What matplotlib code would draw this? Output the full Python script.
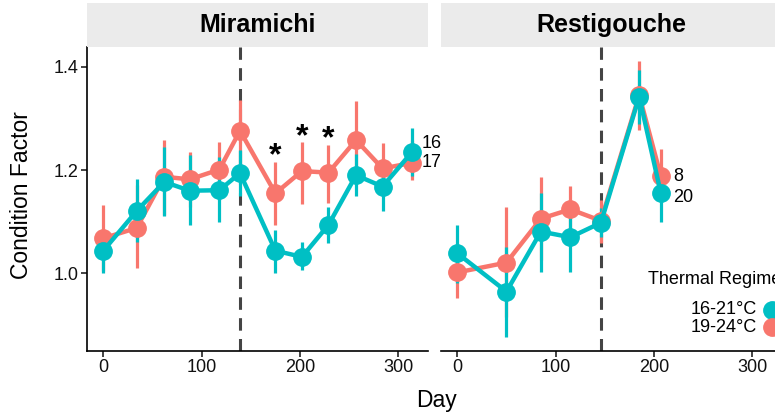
import matplotlib
matplotlib.use("Agg")
import matplotlib.pyplot as plt
from matplotlib.lines import Line2D
from matplotlib.patches import Rectangle

plt.rcParams["font.family"] = ["Liberation Sans", "DejaVu Sans"]
plt.rcParams["lines.scale_dashes"] = False

TEAL = "#00BFC4"
RED = "#F8766D"

# Miramichi
mir_day = [0, 34, 62, 88, 118, 139, 175, 202, 229, 257, 284, 314]
mir_cool = [1.044, 1.121, 1.177, 1.160, 1.161, 1.194, 1.044, 1.032, 1.094, 1.190, 1.168, 1.235]
mir_cool_lo = [1.001, 1.061, 1.111, 1.094, 1.100, 1.150, 1.001, 1.006, 1.058, 1.150, 1.121, 1.188]
mir_cool_hi = [1.083, 1.182, 1.244, 1.229, 1.226, 1.238, 1.085, 1.061, 1.129, 1.232, 1.197, 1.281]
mir_warm = [1.068, 1.088, 1.187, 1.182, 1.201, 1.276, 1.155, 1.198, 1.195, 1.258, 1.203, 1.214]
mir_warm_lo = [1.005, 1.010, 1.113, 1.129, 1.142, 1.206, 1.094, 1.135, 1.137, 1.174, 1.155, 1.181]
mir_warm_hi = [1.132, 1.171, 1.259, 1.234, 1.255, 1.335, 1.216, 1.255, 1.248, 1.334, 1.253, 1.258]

# Restigouche
res_day = [0, 50, 85, 115, 146, 185, 207]
res_cool = [1.039, 0.965, 1.081, 1.070, 1.098, 1.342, 1.155]
res_cool_lo = [0.982, 0.877, 1.003, 1.003, 1.071, 1.290, 1.100]
res_cool_hi = [1.094, 1.052, 1.156, 1.132, 1.126, 1.394, 1.197]
res_warm = [1.002, 1.021, 1.106, 1.124, 1.102, 1.345, 1.188]
res_warm_lo = [0.952, 0.916, 1.026, 1.077, 1.058, 1.277, 1.148]
res_warm_hi = [1.040, 1.129, 1.187, 1.169, 1.143, 1.410, 1.240]

# sample sizes at last point (cool, warm)
mir_n = ["16", "17"]
res_n = ["20", "8"]

star_day = [175, 202, 229]
star_y = [1.226, 1.263, 1.259]

transfer_day = [139, 146]

fig = plt.figure(figsize=(7.75, 4.18), dpi=100)
W, H = 775, 418
bottom, top = 351, 47
ax1 = fig.add_axes([87 / W, 1 - bottom / H, 341 / W, (bottom - top) / H])
ax2 = fig.add_axes([441 / W, 1 - bottom / H, 341 / W, (bottom - top) / H])


def draw_panel(ax, day, cool, clo, chi, warm, wlo, whi, vline):
    ax.axvline(vline, color="#444444", lw=2.2, dashes=(9, 6), zorder=1)
    for d, v, lo, hi, c in [(day, warm, wlo, whi, RED), (day, cool, clo, chi, TEAL)]:
        ax.vlines(d, lo, hi, color=c, lw=2.3, zorder=2)
        ax.plot(d, v, color=c, lw=3.2, marker="o", ms=12.5, zorder=3)
    ax.set_xlim(-16.6, 330.2)
    ax.set_ylim(0.850, 1.438)
    ax.set_xticks([0, 100, 200, 300])
    ax.set_yticks([1.0, 1.2, 1.4])
    for s in ["top", "right"]:
        ax.spines[s].set_visible(False)
    ax.spines["bottom"].set_linewidth(1.2)
    ax.spines["left"].set_linewidth(1.2)
    ax.tick_params(length=4, width=1.1, labelsize=13, colors="#111111", pad=2)


draw_panel(ax1, mir_day, mir_cool, mir_cool_lo, mir_cool_hi,
           mir_warm, mir_warm_lo, mir_warm_hi, transfer_day[0])
draw_panel(ax2, res_day, res_cool, res_cool_lo, res_cool_hi,
           res_warm, res_warm_lo, res_warm_hi, transfer_day[1])
ax1.set_yticklabels(["1.0", "1.2", "1.4"])
ax2.spines["left"].set_visible(False)
ax2.tick_params(axis="y", left=False, labelleft=False)

# n labels
ax1.annotate(mir_n[0], (mir_day[-1], mir_cool[-1]), xytext=(7, 6), textcoords="offset points",
             fontsize=13, va="center", ha="left")
ax1.annotate(mir_n[1], (mir_day[-1], mir_warm[-1]), xytext=(7, 0), textcoords="offset points",
             fontsize=13, va="center", ha="left")
ax2.annotate(res_n[0], (res_day[-1], res_cool[-1]), xytext=(9, -3), textcoords="offset points",
             fontsize=13, va="center", ha="left")
ax2.annotate(res_n[1], (res_day[-1], res_warm[-1]), xytext=(9, 0), textcoords="offset points",
             fontsize=13, va="center", ha="left")

for d, y in zip(star_day, star_y):
    ax1.text(d, y, "*", fontsize=23, fontweight="bold", ha="center", va="center")

# facet strips
for x0, label in [(87, "Miramichi"), (441, "Restigouche")]:
    fig.add_artist(Rectangle((x0 / W, 1 - top / H), 341 / W, 44 / H,
                             transform=fig.transFigure, color="#EBEBEB", lw=0))
    fig.text((x0 + 170.5) / W, 1 - 25 / H, label, fontsize=18, fontweight="bold",
             ha="center", va="center")

fig.text(21.7 / W, 1 - 195 / H, "Condition Factor", fontsize=16.5, rotation=90,
         ha="center", va="center")
fig.text(436 / W, 1 - 400 / H, "Day", fontsize=16.5, ha="center", va="center")

# legend (cut off at the right edge, as in the source figure)
fig.text(648 / W, 1 - 280 / H, "Thermal Regime", fontsize=13, ha="left", va="center")
for yy, lab, c in [(310, "16-21°C", TEAL), (327, "19-24°C", RED)]:
    fig.text(757 / W, 1 - yy / H, lab, fontsize=13, ha="right", va="center")
    fig.add_artist(Line2D([771.5 / W], [1 - yy / H], marker="o", ms=12.5, color=c,
                          transform=fig.transFigure))

fig.savefig("out.png", dpi=100)
